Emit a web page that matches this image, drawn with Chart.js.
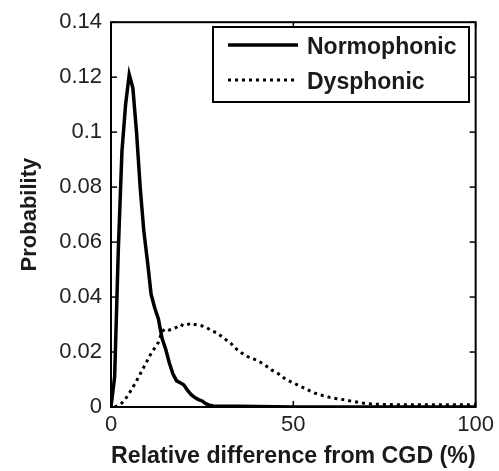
<!DOCTYPE html>
<html>
<head>
<meta charset="utf-8">
<script src="https://cdn.jsdelivr.net/npm/chart.js@4"></script>
<style>
  body { margin: 0; background: #fff; }
  canvas { display: block; }
</style>
</head>
<body>
<canvas id="chart" width="499" height="471"></canvas>
<script>
// relative difference from CGD (%)
const normX = [0, 1, 2, 3, 4, 5, 6, 7, 8, 9, 10, 11, 12, 13, 14, 15, 16, 17, 18, 19, 20,
  21, 22, 23, 24, 25, 26, 27, 28, 30, 35, 40, 45, 50, 60, 70, 80, 90, 100]
const normY = [0, 0.011, 0.057, 0.093, 0.110, 0.121, 0.116, 0.100, 0.080, 0.064, 0.053,
  0.041, 0.036, 0.032, 0.025, 0.021, 0.016, 0.012, 0.0095, 0.0088, 0.008,
  0.006, 0.0045, 0.0034, 0.0027, 0.0022, 0.0012, 0.0006, 0.0004, 0.0003, 0.0003, 0.0002, 0.0001, 0, 0, 0, 0, 0, 0]

const dysX = [1, 2, 3, 4, 5, 6, 7, 8, 9, 10, 11, 12, 13, 14, 15, 16, 17, 18, 19, 20,
  21, 22, 23, 24, 25, 26, 27, 28, 29, 30, 31, 32, 33, 34, 35, 36, 37, 38, 39, 40,
  42, 44, 46, 48, 50, 52, 54, 56, 58, 60, 62, 64, 66, 68, 70, 75, 80, 90, 100]
const dysY = [0, 0.0005, 0.0015, 0.003, 0.005, 0.0072, 0.0095, 0.012, 0.0145, 0.017,
  0.0195, 0.0215, 0.0235, 0.0275, 0.0285, 0.028, 0.0285, 0.029, 0.030, 0.0295,
  0.030, 0.0305, 0.030, 0.0298, 0.0295, 0.029, 0.0283, 0.0275, 0.027, 0.026,
  0.025, 0.024, 0.023, 0.0215, 0.0205, 0.0195, 0.0187, 0.018, 0.0175, 0.017,
  0.0155, 0.0135, 0.012, 0.010, 0.0088, 0.0075, 0.0062, 0.005, 0.0042, 0.0035,
  0.003, 0.0026, 0.0021, 0.0017, 0.0012, 0.0009, 0.0008, 0.0008, 0.0008]

const seriesNames = ['Normophonic', 'Dysphonic']
const xTicks = [0, 50, 100]

const FONT = "'Liberation Sans', Arial, sans-serif"

function toPoints(xs, ys) {
  return xs.map((x, i) => ({x: x, y: ys[i]}))
}

function line(ctx, x1, y1, x2, y2) {
  ctx.beginPath()
  ctx.moveTo(x1, y1)
  ctx.lineTo(x2, y2)
  ctx.stroke()
}

// matlab style box with inward ticks + legend inside the axes
const framePlugin = {
  id: 'frame',
  afterDatasetsDraw(chart) {
    const {ctx, chartArea: a, scales: {x, y}} = chart
    ctx.save()
    ctx.strokeStyle = '#000'
    ctx.lineWidth = 1.5
    y.ticks.forEach(t => {
      const py = y.getPixelForValue(t.value)
      line(ctx, a.left, py, a.left + 6, py)
      line(ctx, a.right, py, a.right - 6, py)
    })
    x.ticks.forEach(t => {
      const px = x.getPixelForValue(t.value)
      line(ctx, px, a.bottom, px, a.bottom - 6)
      line(ctx, px, a.top, px, a.top + 6)
    })
    ctx.lineWidth = 2
    ctx.strokeRect(a.left, a.top, a.right - a.left, a.bottom - a.top)

    // legend
    ctx.fillStyle = '#fff'
    ctx.fillRect(213, 27, 256, 75)
    ctx.strokeRect(213, 27, 256, 75)
    ctx.font = "bold 23px " + FONT
    ctx.textBaseline = 'alphabetic'
    chart.data.datasets.forEach((ds, i) => {
      const ly = 45 + i * 35
      ctx.strokeStyle = ds.borderColor
      ctx.lineWidth = ds.borderWidth
      ctx.setLineDash(ds.borderDash || [])
      line(ctx, 228, ly, 298, ly)
      ctx.setLineDash([])
      ctx.fillStyle = '#1a1a1a'
      ctx.fillText(ds.label, 307, ly + 9)
    })
    ctx.restore()
  }
}

const chart = new Chart(document.getElementById('chart'), {
  type: 'line',
  data: {
    datasets: [
      {
        label: seriesNames[0],
        data: toPoints(normX, normY),
        borderColor: '#000',
        borderWidth: 3.5,
        pointRadius: 0,
        tension: 0
      },
      {
        label: seriesNames[1],
        data: toPoints(dysX, dysY),
        borderColor: '#000',
        borderWidth: 3,
        borderDash: [3, 4],
        pointRadius: 0,
        tension: 0
      }
    ]
  },
  options: {
    responsive: false,
    animation: false,
    layout: {padding: {left: 0, right: 20, top: 18, bottom: 0}},
    plugins: {legend: {display: false}, tooltip: {enabled: false}},
    scales: {
      x: {
        type: 'linear',
        min: 0,
        max: 100,
        afterBuildTicks: scale => { scale.ticks = xTicks.map(v => ({value: v})) },
        afterFit: scale => { scale.height = 64 },
        grid: {display: false, drawTicks: false},
        border: {display: false},
        ticks: {
          padding: 5,
          color: '#222',
          font: {family: FONT, size: 22},
          maxRotation: 0
        },
        title: {
          display: true,
          text: 'Relative difference from CGD (%)',
          color: '#1a1a1a',
          font: {family: FONT, size: 24, weight: 'bold'},
          padding: {top: 0, bottom: 0}
        }
      },
      y: {
        min: 0,
        max: 0.14,
        afterFit: scale => { scale.width = 111 },
        grid: {display: false, drawTicks: false},
        border: {display: false},
        ticks: {
          stepSize: 0.02,
          padding: 9,
          color: '#222',
          font: {family: FONT, size: 22},
          callback: v => String(+v.toFixed(2))
        },
        title: {
          display: true,
          text: 'Probability',
          color: '#1a1a1a',
          font: {family: FONT, size: 22, weight: 'bold'},
          padding: {top: 17, bottom: 0}
        }
      }
    }
  },
  plugins: [framePlugin]
})
</script>
</body>
</html>
